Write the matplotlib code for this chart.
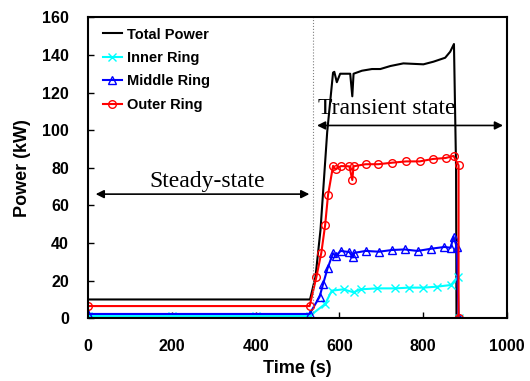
import matplotlib
matplotlib.use("Agg")
import matplotlib.pyplot as plt

# Total power (line only)
t_total = [0, 530, 543, 555, 571, 585, 588, 594, 602, 626, 631, 634, 654, 678, 698, 722, 753, 801, 825, 853, 865, 874, 879, 880]
p_total = [10, 10, 22, 47, 99, 130.6, 131, 125.5, 130, 130, 118, 130, 131.6, 132.5, 132.5, 134.1, 135.5, 135, 136.4, 138.5, 141.7, 145.8, 80, 0]

# Inner ring
t_inner = [0, 200, 400, 529, 566, 582, 610, 634, 651, 690, 734, 767, 801, 833, 867, 883, 885]
p_inner = [1.2, 1.2, 1.2, 1.2, 7.6, 14.7, 15.4, 13.8, 15.4, 15.9, 15.9, 16.3, 16.3, 16.8, 17.7, 22.1, 0]

# Middle ring
t_middle = [0, 529, 553, 561, 572, 585, 592, 603, 624, 632, 636, 663, 695, 726, 756, 787, 820, 851, 866, 873, 881, 885]
p_middle = [2.3, 2.3, 11.5, 18.1, 26.6, 34.6, 33.1, 35.8, 35.2, 32.4, 34.8, 35.8, 35.4, 36.3, 36.6, 35.8, 37.0, 37.9, 37.5, 43.4, 37.7, 0]

# Outer ring
t_outer = [0, 529, 545, 557, 566, 573, 585, 591, 604, 624, 631, 634, 663, 693, 726, 760, 792, 824, 854, 873, 885, 885]
p_outer = [6.5, 6.5, 21.8, 34.9, 49.4, 65.5, 81, 79.2, 80.9, 80.8, 73.5, 80.8, 81.9, 81.9, 82.7, 83.4, 83.4, 84.7, 85.2, 86.3, 81.3, 0]

xticks = [0, 200, 400, 600, 800, 1000]
yticks = [0, 20, 40, 60, 80, 100, 120, 140, 160]

plt.rcParams['font.family'] = ['Liberation Sans', 'DejaVu Sans']

fig = plt.figure(figsize=(5.30, 3.81), dpi=100)
ax = fig.add_axes([0.1666, 0.1646, 0.7894, 0.790])

ax.plot(t_total, p_total, color='black', lw=1.5, label='Total Power')
ax.plot(t_inner, p_inner, color='#00FFFF', lw=1.5, marker='x', ms=5.5, mew=1.0, label='Inner Ring')
ax.plot(t_middle, p_middle, color='#0000FF', lw=1.5, marker='^', ms=5.5, mfc='none', mew=1.0, label='Middle Ring')
ax.plot(t_outer, p_outer, color='#FF0000', lw=1.5, marker='o', ms=5.5, mfc='none', mew=1.0, label='Outer Ring')

ax.axvline(537, color='gray', lw=0.8, ls=':')

ax.set_xlim(0, 1000)
ax.set_ylim(0, 160)
ax.set_xticks(xticks)
ax.set_yticks(yticks)
ax.tick_params(direction='in', length=4, width=1, labelsize=11.5)
ax.tick_params(axis='x', pad=15)
ax.tick_params(axis='y', pad=14)
for lab in ax.get_xticklabels() + ax.get_yticklabels():
    lab.set_fontweight('bold')
for s in ax.spines.values():
    s.set_linewidth(1.5)

ax.set_xlabel('Time (s)', fontsize=13, fontweight='bold', labelpad=4)
ax.set_ylabel('Power (kW)', fontsize=13, fontweight='bold', labelpad=8)

leg = ax.legend(loc='upper left', frameon=False, prop={'weight': 'bold', 'size': 10.5},
                handlelength=1.3, handletextpad=0.35, labelspacing=0.65,
                borderaxespad=0.3, bbox_to_anchor=(0.01, 1.0))

ax.annotate('', xy=(11, 66), xytext=(535, 66),
            arrowprops=dict(arrowstyle='<|-|>', color='black', lw=1.2, mutation_scale=12))
ax.text(283, 72.5, 'Steady-state', family='Liberation Serif', fontsize=17,
        ha='center', va='center')
ax.annotate('', xy=(540, 102.5), xytext=(998, 102.5),
            arrowprops=dict(arrowstyle='<|-|>', color='black', lw=1.2, mutation_scale=12))
ax.text(713, 111.5, 'Transient state', family='Liberation Serif', fontsize=17,
        ha='center', va='center')

fig.savefig('out.png', dpi=100)
